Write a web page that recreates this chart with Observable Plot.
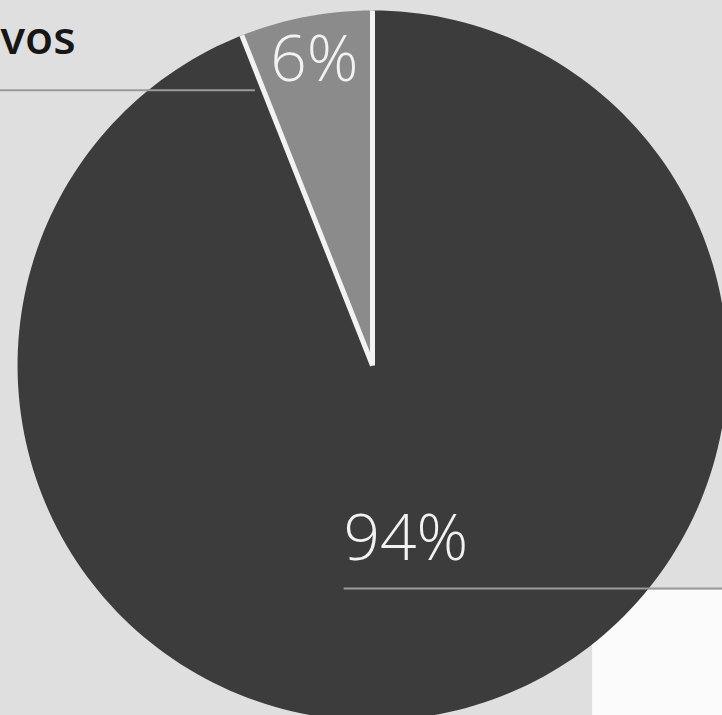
<!DOCTYPE html>
<html>
<head>
<meta charset="utf-8">
<script src="https://cdn.jsdelivr.net/npm/d3@7"></script>
<script src="https://cdn.jsdelivr.net/npm/@observablehq/plot@0.6"></script>
<style>
  html, body { margin: 0; padding: 0; background: #dfdfdf; overflow: hidden; }
  #chart svg { display: block; }
</style>
</head>
<body>
<div id="chart"></div>
<script>
// ---- data ----
const sliceLabels = ["94%", "6%"];
const shares = [94, 6];
const sliceColors = ["#3c3c3c", "#8b8b8b"];
const legendFragment = ["vos"];

// ---- geometry derived from the data through d3.pie ----
const pie = d3.pie().sort(null).value(d => d.share)(
  shares.map((s, i) => ({share: s, label: sliceLabels[i], color: sliceColors[i]}))
);
const steps = 240;
const outline = [];
pie.forEach((p, k) => {
  outline.push({slice: k, u: 0, v: 0});
  const n = Math.max(2, Math.ceil(steps * (p.endAngle - p.startAngle) / (2 * Math.PI)));
  for (let j = 0; j <= n; j++) {
    const a = p.startAngle + (p.endAngle - p.startAngle) * j / n;
    outline.push({slice: k, u: Math.sin(a), v: Math.cos(a)});
  }
  outline.push({slice: k, u: 0, v: 0});
});
const separators = pie.map(p => ({u: Math.sin(p.startAngle), v: Math.cos(p.startAngle)}));
const labelRadius = [0.5, 0.875];
const labels = pie.map((p, k) => {
  const a = (p.startAngle + p.endAngle) / 2;
  return {u: labelRadius[k] * Math.sin(a), v: labelRadius[k] * Math.cos(a), text: p.data.label};
});

const chart = Plot.plot({
  width: 722,
  height: 715,
  margin: 0,
  style: {background: "#dfdfdf", fontFamily: "Open Sans, sans-serif"},
  x: {domain: [-1.048, 0.986], axis: null},
  y: {domain: [-0.986, 1.028], axis: null},
  marks: [
    // paper patch (white) behind the lower-right corner
    Plot.rect([0], {x1: 0.62, x2: 1.0, y1: -0.634, y2: -1.0, fill: "#fbfbfb"}),
    Plot.line(outline, {
      x: "u", y: "v", z: "slice",
      fill: d => sliceColors[d.slice], stroke: "none", curve: "linear"
    }),
    Plot.link(separators, {
      x1: () => 0, y1: () => 0, x2: "u", y2: "v",
      stroke: "#f2f2f2", strokeWidth: 5
    }),
    Plot.ruleY([0.775], {x1: -1.05, x2: -0.33, stroke: "#9a9a9a", strokeWidth: 2}),
    Plot.ruleY([-0.628], {x1: -0.08, x2: 0.99, stroke: "#9a9a9a", strokeWidth: 2}),
    Plot.text(labels, {
      x: "u", y: "v", text: "text",
      fill: "#f2f2f2", fontSize: 64, fontWeight: 300,
      textAnchor: "middle", lineAnchor: "middle"
    }),
    Plot.text(legendFragment, {
      text: d => d, frameAnchor: "top-left", textAnchor: "start", lineAnchor: "top",
      dx: 0, dy: 21, fontSize: 46, fontWeight: 600, fill: "#161616"
    })
  ]
});
document.getElementById("chart").appendChild(chart);
</script>
</body>
</html>
